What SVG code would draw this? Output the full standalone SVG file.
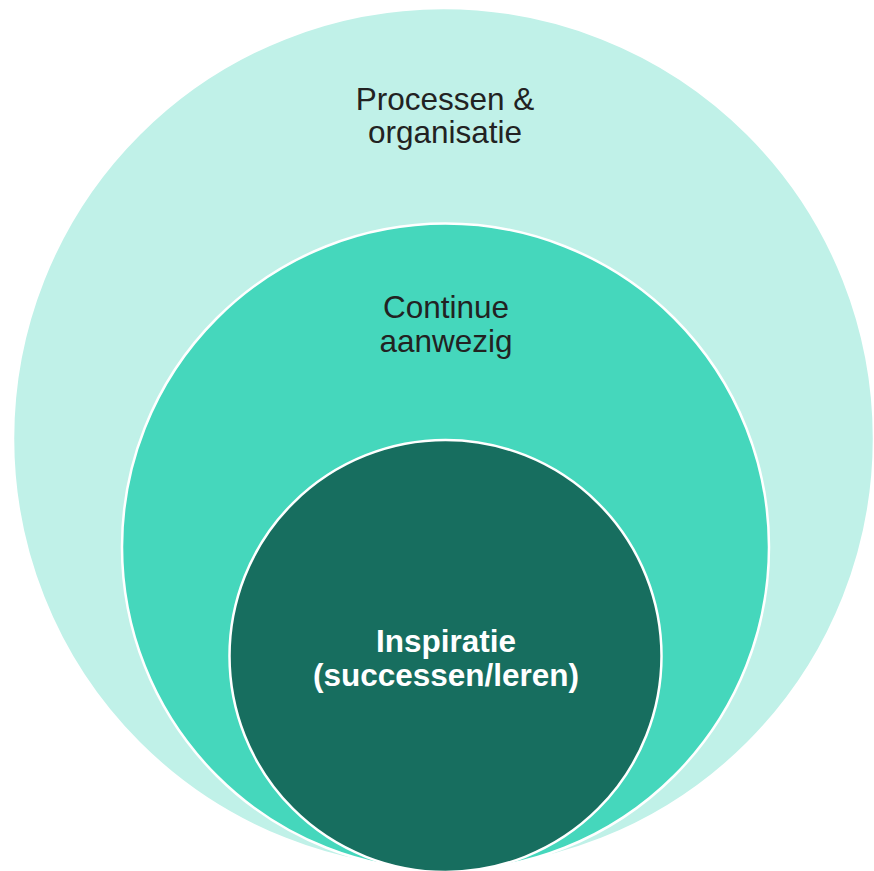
<svg xmlns="http://www.w3.org/2000/svg" width="874" height="871" viewBox="0 0 874 871">
<style>
.c{stroke:#ffffff;stroke-width:2.5}
.t{font-family:"Liberation Sans",Arial,sans-serif;font-size:31.5px;text-anchor:middle;fill:#222222}
.w{fill:#ffffff;font-weight:bold}
</style>
<rect width="874" height="871" fill="#ffffff"/>
<g id="outer">
<circle class="c" cx="443.5" cy="438.5" r="430.5" fill="#C0F1E8"/>
<text class="t" x="445" y="110">Processen &amp;</text>
<text class="t" x="445" y="143">organisatie</text>
</g>
<g id="middle">
<circle class="c" cx="445.5" cy="547" r="323.5" fill="#45D7BC"/>
<text class="t" x="446" y="318">Continue</text>
<text class="t" x="446" y="352">aanwezig</text>
</g>
<g id="inner">
<circle class="c" cx="445.5" cy="656" r="216" fill="#176E5F"/>
<text class="t w" x="446" y="652">Inspiratie</text>
<text class="t w" x="446" y="686">(successen/leren)</text>
</g>
<g id="connectors"/>
</svg>
